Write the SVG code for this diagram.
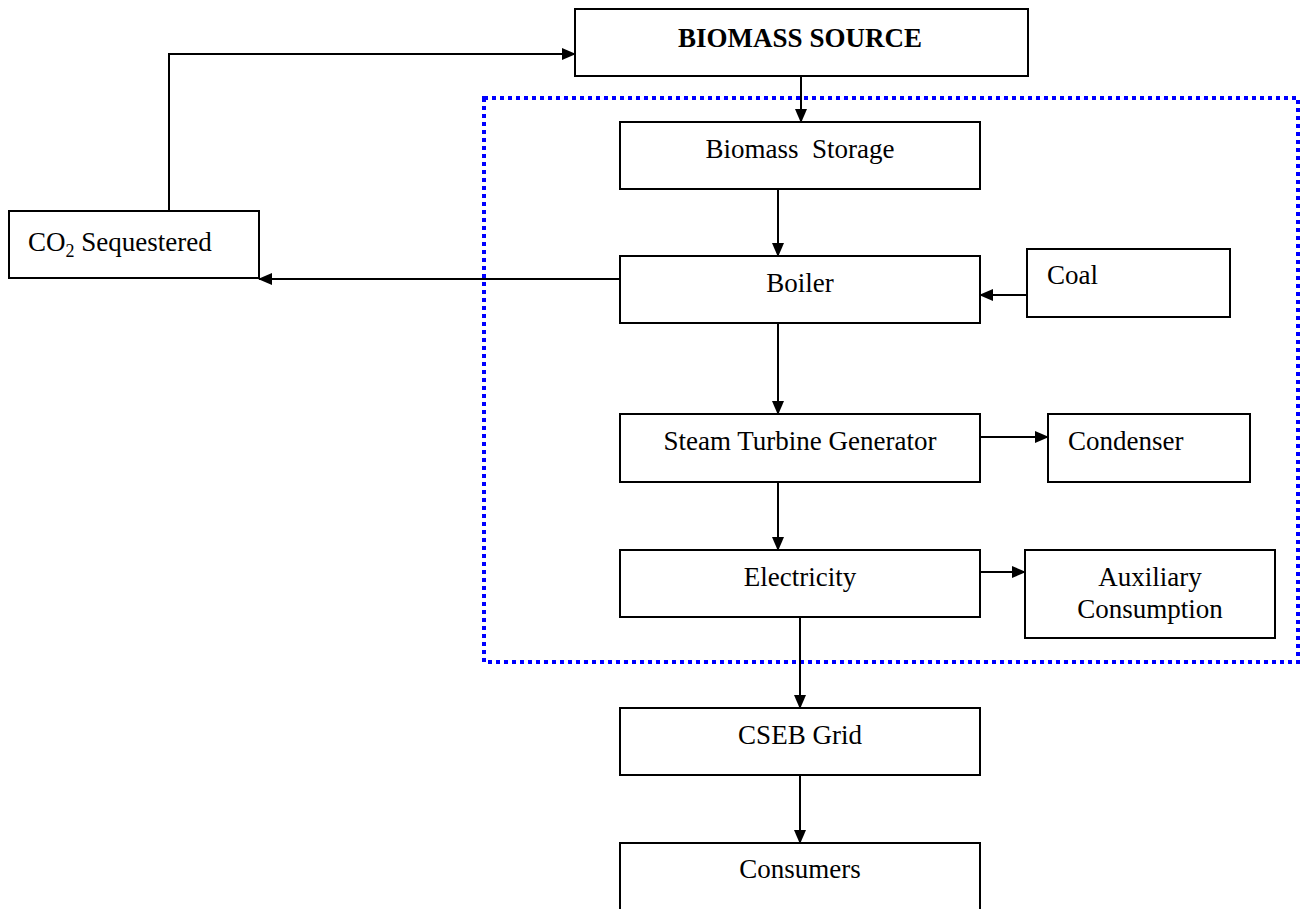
<svg xmlns="http://www.w3.org/2000/svg" width="1306" height="909" viewBox="0 0 1306 909">
<style>
.box{fill:#fff;stroke:#000;stroke-width:2}
.t{font-family:"Liberation Serif","Times New Roman",serif;font-size:27px;fill:#000}
.c{text-anchor:middle}
.ln{fill:none;stroke:#000;stroke-width:2}
</style>
<defs>
<marker id="ah" markerWidth="14" markerHeight="12" refX="13" refY="6" orient="auto" markerUnits="userSpaceOnUse">
<path d="M0,0 L14,6 L0,12 Z" fill="#000"/>
</marker>
</defs>
<rect width="1306" height="909" fill="#fff"/>
<rect id="boundary" x="484" y="98" width="814" height="564" fill="none" stroke="#0000ff" stroke-width="4" stroke-dasharray="4 4"/>
<g id="n-source"><rect class="box" x="575" y="9" width="453" height="67"/><text class="t c" x="800" y="47" font-weight="bold" font-size="25">BIOMASS SOURCE</text></g>
<g id="n-storage"><rect class="box" x="620" y="122" width="360" height="67"/><text class="t c" x="800" y="158" xml:space="preserve">Biomass  Storage</text></g>
<g id="n-boiler"><rect class="box" x="620" y="256" width="360" height="67"/><text class="t c" x="800" y="292">Boiler</text></g>
<g id="n-coal"><rect class="box" x="1027" y="249" width="203" height="68"/><text class="t" x="1047" y="284">Coal</text></g>
<g id="n-co2"><rect class="box" x="9" y="211" width="250" height="67"/><text class="t" x="28" y="251">CO<tspan font-size="18" dy="6">2</tspan><tspan dy="-6"> Sequestered</tspan></text></g>
<g id="n-stg"><rect class="box" x="620" y="414" width="360" height="68"/><text class="t c" x="800" y="450">Steam Turbine Generator</text></g>
<g id="n-condenser"><rect class="box" x="1048" y="414" width="202" height="68"/><text class="t" x="1068" y="450">Condenser</text></g>
<g id="n-electricity"><rect class="box" x="620" y="550" width="360" height="67"/><text class="t c" x="800" y="586">Electricity</text></g>
<g id="n-aux"><rect class="box" x="1025" y="550" width="250" height="88"/><text class="t c" x="1150" y="586">Auxiliary</text><text class="t c" x="1150" y="618">Consumption</text></g>
<g id="n-cseb"><rect class="box" x="620" y="708" width="360" height="67"/><text class="t c" x="800" y="744">CSEB Grid</text></g>
<g id="n-consumers"><rect class="box" x="620" y="843" width="360" height="80"/><text class="t c" x="800" y="878">Consumers</text></g>
<g id="connectors">
<path class="ln" d="M801,76 V122" marker-end="url(#ah)"/>
<path class="ln" d="M778,189 V256" marker-end="url(#ah)"/>
<path class="ln" d="M1027,295 H980" marker-end="url(#ah)"/>
<path class="ln" d="M620,279 H259" marker-end="url(#ah)"/>
<path class="ln" d="M169,211 V54 H575" marker-end="url(#ah)"/>
<path class="ln" d="M778,323 V414" marker-end="url(#ah)"/>
<path class="ln" d="M980,437 H1048" marker-end="url(#ah)"/>
<path class="ln" d="M778,482 V550" marker-end="url(#ah)"/>
<path class="ln" d="M980,572 H1025" marker-end="url(#ah)"/>
<path class="ln" d="M800,617 V708" marker-end="url(#ah)"/>
<path class="ln" d="M800,775 V843" marker-end="url(#ah)"/>
</g>
</svg>
